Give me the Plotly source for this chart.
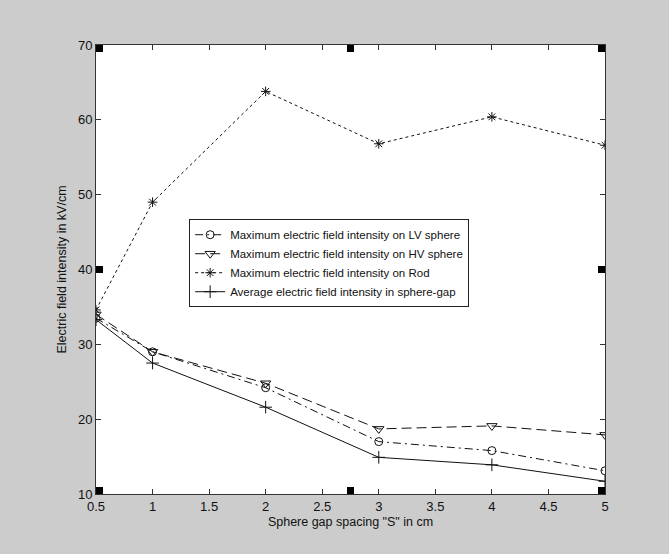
import plotly.graph_objects as go

x_spacing = [0.5, 1, 2, 3, 4, 5]
lv_sphere = [33.5, 29.0, 24.2, 17.0, 15.8, 13.1]
hv_sphere = [34.0, 29.0, 24.8, 18.7, 19.1, 17.9]
rod = [34.6, 49.0, 63.8, 56.8, 60.4, 56.6]
avg_gap = [33.3, 27.5, 21.6, 14.9, 13.9, 11.7]

names = [
    "Maximum electric field intensity on LV sphere",
    "Maximum electric field intensity on HV sphere",
    "Maximum electric field intensity on Rod",
    "Average electric field intensity in sphere-gap",
]
x_ticks = [0.5, 1, 1.5, 2, 2.5, 3, 3.5, 4, 4.5, 5]
x_tick_text = ["0.5", "1", "1.5", "2", "2.5", "3", "3.5", "4", "4.5", "5"]
y_ticks = [10, 20, 30, 40, 50, 60, 70]

ink = "#111111"
fig = go.Figure()
series = [
    (lv_sphere, "circle-open", "8px,4px,2px,4px", 8),
    (hv_sphere, "triangle-down-open", "10px,5px", 9),
    (rod, "asterisk-open", "3px,3px", 8),
    (avg_gap, "cross-thin-open", "solid", 9),
]
for (vals, sym, dash, size), name in zip(series, names):
    fig.add_trace(go.Scatter(
        x=x_spacing, y=vals, name=name, mode="lines+markers",
        line=dict(color=ink, width=1, dash=dash),
        marker=dict(symbol=sym, size=size, color=ink, line=dict(color=ink, width=1)),
    ))

axis_common = dict(
    showline=True, linecolor="#333333", linewidth=1, mirror="ticks",
    ticks="inside", ticklen=5, tickcolor="#333333", showgrid=False, zeroline=False,
    tickfont=dict(size=13, color="#111111"),
)
fig.update_xaxes(range=[0.5, 5], tickvals=x_ticks, ticktext=x_tick_text,
                 title=dict(text='Sphere gap spacing "S" in cm', font=dict(size=12.5, color="#111111"), standoff=4),
                 **axis_common)
fig.update_yaxes(range=[10, 70], tickvals=y_ticks,
                 title=dict(text="Electric field intensity in kV/cm", font=dict(size=12.5, color="#111111"), standoff=8),
                 **axis_common)

# MATLAB-style selection handles
handles = [(0, 1), (0.5, 1), (1, 1), (0, 0.5), (1, 0.5), (0, 0), (0.5, 0), (1, 0)]
s = 7 / 509.0
sy = 7 / 449.0
shapes = []
for hx, hy in handles:
    x0 = min(max(hx - s / 2, 0), 1 - s)
    y0 = min(max(hy - sy / 2, 0), 1 - sy)
    shapes.append(dict(type="rect", xref="x domain", yref="y domain",
                       x0=x0, x1=x0 + s, y0=y0, y1=y0 + sy,
                       fillcolor="black", line=dict(width=0)))

fig.update_layout(
    width=669, height=554,
    margin=dict(l=96, r=64, t=45, b=60),
    paper_bgcolor="#cccccc", plot_bgcolor="white",
    font=dict(family="Liberation Sans, Arial, sans-serif", size=12, color="#111111"),
    shapes=shapes,
    showlegend=True,
    legend=dict(x=0.183, y=0.612, xanchor="left", yanchor="top",
                bgcolor="white", bordercolor="#222222", borderwidth=1,
                font=dict(size=11.5), tracegroupgap=0, itemwidth=30),
)
fig.write_html("out.html", config={"displayModeBar": False},
               post_script="document.body.style.margin='0';document.body.style.padding='0';")
